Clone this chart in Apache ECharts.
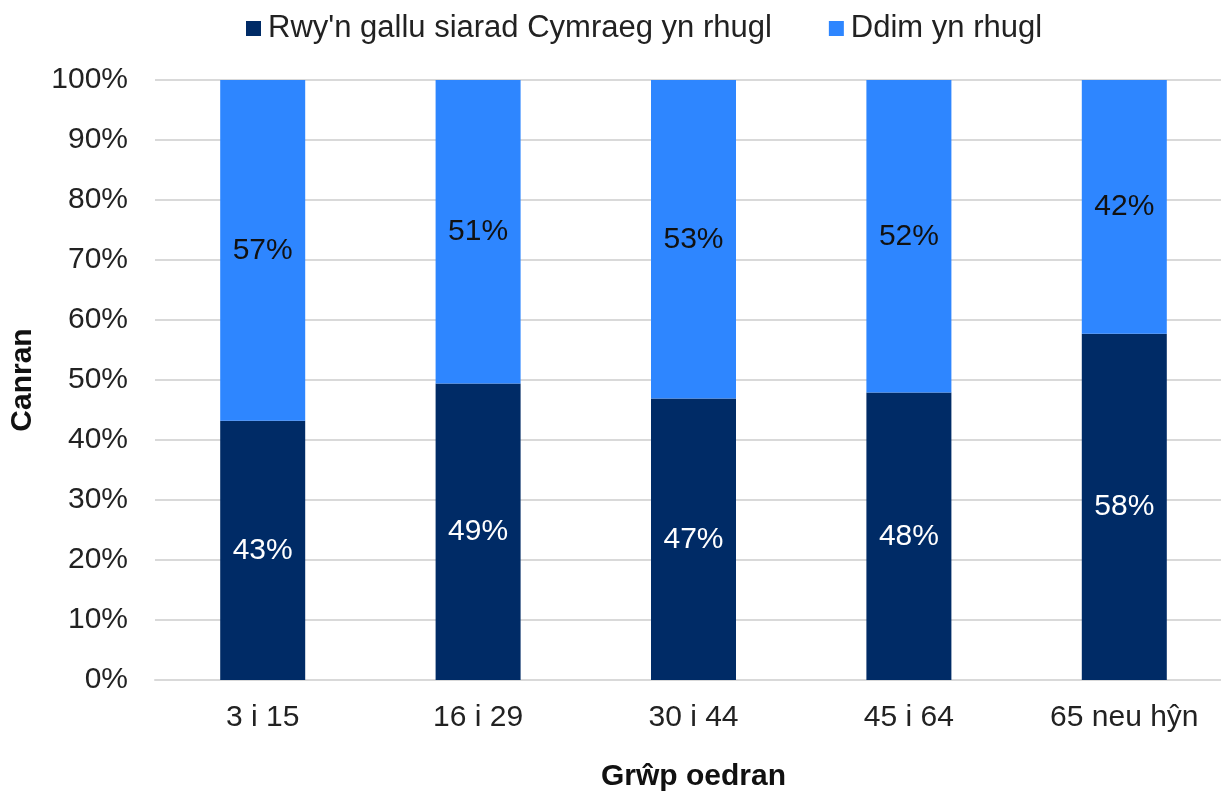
<!DOCTYPE html>
<html>
<head>
<meta charset="utf-8">
<script src="https://cdn.jsdelivr.net/npm/echarts@6/dist/echarts.min.js"></script>
<style>
  html, body { margin: 0; padding: 0; background: #fff; }
  #chart { width: 1221px; height: 791px; }
</style>
</head>
<body>
<div id="chart"></div>
<script>
  // data (percent, labels shown rounded)
  var categories = ['3 i 15', '16 i 29', '30 i 44', '45 i 64', '65 neu hŷn'];
  var fluent = [43.2, 49.4, 46.9, 47.9, 57.7];      // Rwy'n gallu siarad Cymraeg yn rhugl
  var notFluent = [56.8, 50.6, 53.1, 52.1, 42.3];   // Ddim yn rhugl
  var seriesNames = ["Rwy'n gallu siarad Cymraeg yn rhugl", 'Ddim yn rhugl'];

  var font = 'Liberation Sans, Arial, sans-serif';
  var fs = 30;
  var pct = function (p) { return Math.round(p.value) + '%'; };
  var chart = echarts.init(document.getElementById('chart'));
  var option = {
    animation: false,
    color: ['#002B66', '#2E86FF'],
    textStyle: { fontFamily: font },
    legend: {
      top: 13,
      left: 246,
      padding: 0,
      icon: 'rect',
      itemWidth: 15,
      itemHeight: 15,
      itemGap: 57,
      textStyle: { fontSize: 31, color: '#222', fontFamily: font, padding: [0, 0, 0, 2] },
      data: seriesNames
    },
    // plot area runs past the right edge of the picture, like the original crop
    grid: { left: 155, width: 1077, top: 80, bottom: 111, containLabel: false, outerBoundsMode: 'none' },
    xAxis: {
      type: 'category',
      data: categories,
      name: 'Grŵp oedran',
      nameLocation: 'middle',
      nameGap: 82,
      nameTextStyle: { fontSize: fs, fontWeight: 'bold', color: '#111', fontFamily: font },
      axisTick: { show: false },
      axisLine: { lineStyle: { color: '#D9D9D9', width: 2 } },
      axisLabel: { fontSize: fs, color: '#222', margin: 23, fontFamily: font }
    },
    yAxis: {
      type: 'value',
      min: 0,
      max: 100,
      interval: 10,
      name: 'Canran',
      nameLocation: 'middle',
      nameGap: 117,
      nameRotate: 90,
      nameTextStyle: { fontSize: fs, fontWeight: 'bold', color: '#111', fontFamily: font },
      axisLine: { show: false },
      axisTick: { show: false },
      axisLabel: { formatter: '{value}%', fontSize: fs, color: '#222', margin: 27, fontFamily: font },
      splitLine: { lineStyle: { color: '#D9D9D9', width: 2 } }
    },
    series: [
      {
        name: seriesNames[0],
        type: 'bar',
        stack: 'total',
        barWidth: 85,
        data: fluent,
        label: { show: true, position: 'inside', formatter: pct, fontSize: fs, color: '#fff', fontFamily: font }
      },
      {
        name: seriesNames[1],
        type: 'bar',
        stack: 'total',
        barWidth: 85,
        data: notFluent,
        label: { show: true, position: 'inside', formatter: pct, fontSize: fs, color: '#111', fontFamily: font }
      }
    ]
  };
  chart.setOption(option);
</script>
</body>
</html>
